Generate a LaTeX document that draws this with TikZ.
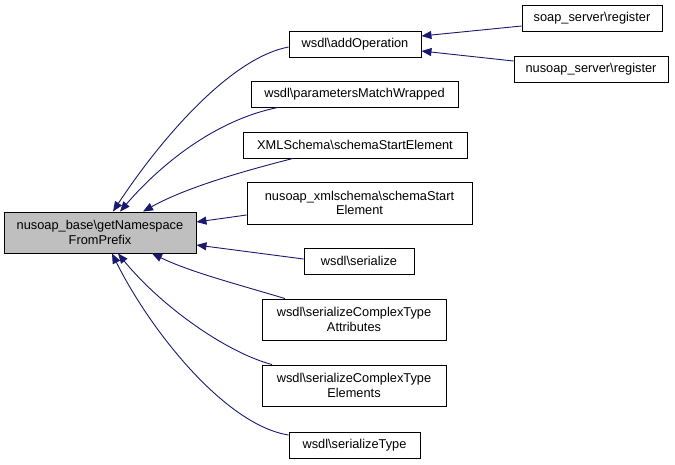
\documentclass[tikz,border=0pt]{standalone}
\usepackage{fontspec}
\setmainfont{Liberation Sans}
\usetikzlibrary{arrows.meta}
\definecolor{edgeblue}{RGB}{25,25,112}
\definecolor{maingray}{RGB}{191,191,191}
\tikzset{
  fn/.style={draw=black, line width=0.9pt, fill=white, inner sep=0pt, align=center,
    font=\fontsize{12.8}{14.5}\selectfont},
  mainfn/.style={fn, fill=maingray},
  calledge/.style={draw=edgeblue, line width=0.9pt, -{Triangle[length=10pt,width=8pt]}}
}
\begin{document}
\begin{tikzpicture}[x=1pt,y=-1pt]
\useasboundingbox (0,0) rectangle (675,464);
\node[mainfn, minimum width=192pt, minimum height=41pt] (main) at (100,232.5) {nusoap\_base\textbackslash getNamespace\\FromPrefix};
\node[fn, minimum width=132pt, minimum height=26pt] (addOp) at (355,44) {wsdl\textbackslash addOperation};
\node[fn, minimum width=140pt, minimum height=26pt] (soap) at (592,18) {soap\_server\textbackslash register};
\node[fn, minimum width=154pt, minimum height=26pt] (nreg) at (591,69) {nusoap\_server\textbackslash register};
\node[fn, minimum width=207pt, minimum height=26pt] (pmw) at (354.5,94) {wsdl\textbackslash parametersMatchWrapped};
\node[fn, minimum width=224pt, minimum height=26pt] (xmls) at (355,145) {XMLSchema\textbackslash schemaStartElement};
\node[fn, minimum width=225pt, minimum height=42pt] (nxs) at (359.5,203) {nusoap\_xmlschema\textbackslash schemaStart\\Element};
\node[fn, minimum width=110pt, minimum height=26pt] (ser) at (359,261) {wsdl\textbackslash serialize};
\node[fn, minimum width=184pt, minimum height=41pt] (attr) at (354,319.5) {wsdl\textbackslash serializeComplexType\\Attributes};
\node[fn, minimum width=184pt, minimum height=41pt] (elem) at (354,385.5) {wsdl\textbackslash serializeComplexType\\Elements};
\node[fn, minimum width=131pt, minimum height=26pt] (stype) at (354.5,445) {wsdl\textbackslash serializeType};

\draw[calledge] ([yshift=-3pt]addOp.west) .. controls (230,58) and (160,140) .. ([xshift=13pt]main.north);
\draw[calledge] ([xshift=-76.5pt]pmw.south) .. controls (215,120) and (160,165) .. ([xshift=20pt]main.north);
\draw[calledge] ([xshift=-62pt]xmls.south) .. controls (240,172) and (185,188) .. ([xshift=43pt]main.north);
\draw[calledge] ([yshift=-12pt]nxs.west) -- ([yshift=10.5pt]main.east);
\draw[calledge] ([yshift=2pt]ser.west) -- ([yshift=-12.5pt]main.east);
\draw[calledge] ([xshift=-69pt]attr.north) .. controls (240,285) and (190,272) .. ([xshift=52pt]main.south);
\draw[calledge] ([xshift=-82pt]elem.north) .. controls (225,352) and (160,305) .. ([xshift=18pt]main.south);
\draw[calledge] ([yshift=10pt]stype.west) .. controls (225,425) and (150,330) .. ([xshift=12pt]main.south);
\draw[calledge] ([yshift=-8pt]soap.west) -- ([yshift=8pt]addOp.east);
\draw[calledge] ([yshift=8pt]nreg.west) -- ([yshift=-7pt]addOp.east);
\end{tikzpicture}
\end{document}
